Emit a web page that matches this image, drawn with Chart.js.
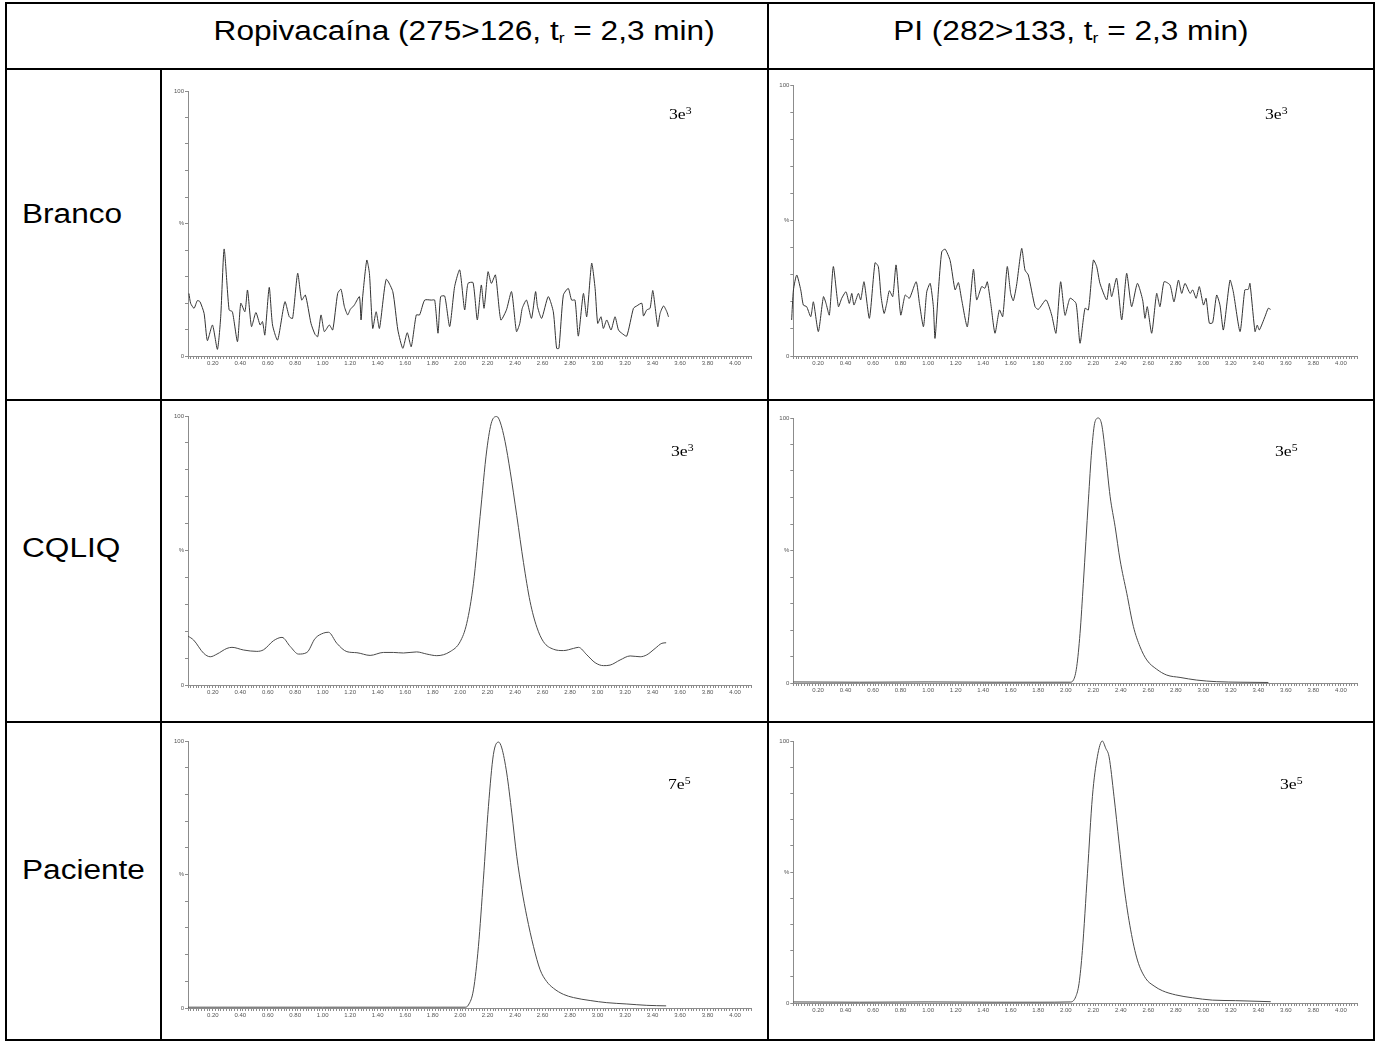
<!DOCTYPE html>
<html>
<head>
<meta charset="utf-8">
<script src="https://cdn.jsdelivr.net/npm/chart.js@4.4.1/dist/chart.umd.min.js"></script>
<style>
  body { margin: 0; background: #fff; width: 1380px; height: 1043px; position: relative; overflow: hidden;
         font-family: "Liberation Sans", Arial, sans-serif; color: #000; }
  .hl { position: absolute; height: 2px; background: #000; }
  .vl { position: absolute; width: 2px; background: #000; }
  .head { position: absolute; top: 16px; height: 30px; line-height: 30px; text-align: center; font-size: 27px; white-space: nowrap; }
  .head span { display: inline-block; transform: scaleX(1.17); }
  .head sub { font-size: 15px; vertical-align: -3px; line-height: 0; }
  .rowlab { position: absolute; left: 22px; height: 30px; line-height: 30px; font-size: 27px; transform: scaleX(1.17); transform-origin: left center; }
  .scale { position: absolute; font-family: "Liberation Serif", "Times New Roman", serif; font-size: 15px; line-height: 15px;
           transform: scaleX(1.18); transform-origin: left top; white-space: nowrap; }
  .scale sup { font-size: 10px; line-height: 0; vertical-align: 5px; }
  canvas { position: absolute; }
</style>
</head>
<body>

<!-- table rules -->
<div class="hl" style="left:5px;top:2px;width:1370px"></div>
<div class="hl" style="left:5px;top:68px;width:1370px"></div>
<div class="hl" style="left:5px;top:399px;width:1370px"></div>
<div class="hl" style="left:5px;top:721px;width:1370px"></div>
<div class="hl" style="left:5px;top:1039px;width:1370px"></div>
<div class="vl" style="left:5px;top:2px;height:1039px"></div>
<div class="vl" style="left:160px;top:68px;height:973px"></div>
<div class="vl" style="left:767px;top:2px;height:1039px"></div>
<div class="vl" style="left:1373px;top:2px;height:1039px"></div>

<div class="head" style="left:162px;width:605px"><span>Ropivacaína (275&gt;126, t<sub>r</sub> = 2,3 min)</span></div>
<div class="head" style="left:769px;width:604px"><span>PI (282&gt;133, t<sub>r</sub> = 2,3 min)</span></div>

<div class="rowlab" style="top:199px">Branco</div>
<div class="rowlab" style="top:533px">CQLIQ</div>
<div class="rowlab" style="top:855px">Paciente</div>

<canvas id="c1"></canvas>
<canvas id="c2"></canvas>
<canvas id="c3"></canvas>
<canvas id="c4"></canvas>
<canvas id="c5"></canvas>
<canvas id="c6"></canvas>

<div id="labels"></div>

<script>
// retention time (min) and relative intensity (%) for each trace
const brancoRopTime = [0.027,0.039,0.064,0.088,0.107,0.137,0.161,0.198,0.234,0.258,0.283,0.319,0.343,0.380,0.404,0.434,0.453,0.482,0.514,0.545,0.562,0.579,0.611,0.635,0.672,0.725,0.757,0.781,0.818,0.847,0.874,0.915,0.944,0.964,0.988,1.012,1.048,1.073,1.109,1.133,1.158,1.182,1.201,1.230,1.267,1.279,1.291,1.321,1.340,1.364,1.389,1.413,1.462,1.510,1.547,1.583,1.615,1.644,1.681,1.705,1.742,1.791,1.815,1.839,1.858,1.888,1.924,1.960,1.997,2.033,2.057,2.094,2.125,2.154,2.174,2.203,2.227,2.257,2.296,2.337,2.374,2.410,2.434,2.452,2.483,2.519,2.549,2.563,2.593,2.641,2.678,2.702,2.719,2.751,2.787,2.811,2.836,2.860,2.897,2.921,2.957,2.982,3.001,3.025,3.042,3.067,3.098,3.127,3.152,3.176,3.212,3.261,3.285,3.322,3.334,3.358,3.382,3.402,3.438,3.455,3.480,3.504,3.516];
const brancoRopSignal = [23.6,19.9,18.0,20.9,20.5,16.1,5.8,11.7,2.5,14.8,40.4,17.4,16.7,5.4,19.9,16.7,24.9,11.1,16.4,11.7,13.0,7.9,25.9,11.7,6.0,20.5,14.8,14.2,31.2,21.1,23.0,12.3,8.2,7.3,15.5,9.2,11.7,9.8,23.6,25.2,18.6,15.5,17.6,19.2,22.4,13.6,22.4,36.2,31.2,10.4,16.7,10.4,28.9,24.3,9.8,2.9,8.8,3.5,15.5,15.5,21.1,21.1,21.1,8.6,22.4,22.6,11.1,26.2,32.5,17.4,27.4,27.7,13.6,26.8,18.0,31.8,27.4,30.6,13.6,17.4,24.3,9.2,12.3,18.0,21.1,14.2,24.3,18.6,14.2,22.4,16.7,2.9,2.9,23.0,25.5,21.1,21.1,7.5,23.6,14.8,35.0,25.5,12.3,14.8,10.4,13.6,9.8,14.8,9.8,8.6,7.5,18.0,18.9,19.9,15.1,17.4,18.0,24.7,11.1,16.1,18.9,16.7,14.8];

const brancoPiTime = [0.008,0.021,0.045,0.074,0.093,0.117,0.147,0.166,0.202,0.239,0.258,0.282,0.311,0.348,0.372,0.403,0.427,0.445,0.461,0.493,0.510,0.534,0.573,0.614,0.638,0.658,0.680,0.699,0.718,0.743,0.767,0.801,0.833,0.864,0.913,0.937,0.966,0.990,1.015,1.038,1.050,1.075,1.099,1.124,1.160,1.196,1.220,1.244,1.285,1.329,1.353,1.389,1.413,1.430,1.455,1.486,1.518,1.542,1.575,1.600,1.619,1.643,1.680,1.704,1.728,1.777,1.801,1.857,1.898,1.929,1.963,1.995,2.031,2.075,2.104,2.140,2.165,2.201,2.225,2.249,2.298,2.317,2.334,2.370,2.407,2.443,2.479,2.521,2.559,2.576,2.593,2.625,2.661,2.685,2.715,2.758,2.787,2.819,2.843,2.867,2.904,2.923,2.948,2.971,3.001,3.020,3.044,3.068,3.097,3.121,3.146,3.194,3.218,3.267,3.302,3.327,3.339,3.376,3.392,3.407,3.448,3.472,3.489];
const brancoPiSignal = [13.3,24.4,29.9,24.4,18.8,18.2,14.5,20.0,9.0,21.9,19.4,15.1,33.0,18.2,21.3,23.7,19.4,23.1,18.8,23.1,20.7,27.4,13.9,34.4,33.0,21.9,15.7,19.4,24.1,21.9,33.6,15.1,22.5,21.3,27.4,19.4,10.8,23.7,26.8,18.2,6.5,24.4,38.5,39.4,35.2,24.4,27.1,20.7,10.8,32.0,20.7,25.6,25.0,27.4,19.4,8.4,17.0,14.5,33.0,23.1,20.4,26.2,39.7,31.7,29.9,18.2,17.2,20.7,15.1,8.4,27.4,15.0,21.3,19.4,4.7,17.6,17.0,35.4,33.0,26.8,20.7,26.8,21.9,28.7,13.3,30.5,18.2,26.8,20.7,13.9,18.2,8.4,23.1,18.2,27.4,26.2,20.0,28.0,23.1,26.8,23.1,24.4,21.3,25.6,18.8,21.3,12.1,12.3,22.5,18.8,9.6,28.0,23.7,9.0,24.4,24.6,26.8,9.0,11.4,9.6,14.5,17.6,17.2];

const cqliqRopTime = [0.020,0.061,0.134,0.182,0.231,0.303,0.340,0.425,0.521,0.570,0.643,0.704,0.764,0.824,0.885,0.945,1.006,1.042,1.103,1.176,1.249,1.345,1.442,1.514,1.587,1.684,1.757,1.830,1.927,2.000,2.048,2.097,2.145,2.194,2.230,2.267,2.291,2.327,2.364,2.412,2.461,2.509,2.558,2.606,2.679,2.752,2.825,2.861,2.922,2.982,3.043,3.091,3.164,3.237,3.310,3.358,3.419,3.468,3.499];
const cqliqRopSignal = [18.2,16.7,11.8,10.5,11.5,13.6,14.0,13.0,12.5,13.1,16.5,17.7,14.3,11.5,12.1,17.3,19.3,19.6,15.5,12.4,12.0,11.0,12.1,12.1,11.9,12.3,11.5,10.9,12.4,16.1,22.9,37.8,62.6,87.4,97.9,99.8,97.8,90.5,79.5,63.0,45.5,31.0,21.5,16.1,13.3,12.8,13.6,14.0,11.2,8.3,7.2,7.4,9.3,10.8,10.5,11.2,13.6,15.5,15.7];

const cqliqPiTime = [0.020,0.500,1.000,1.500,1.813,2.031,2.056,2.080,2.104,2.128,2.165,2.189,2.213,2.238,2.262,2.286,2.323,2.359,2.395,2.444,2.492,2.540,2.589,2.661,2.734,2.831,2.952,3.097,3.267,3.473];
const cqliqPiSignal = [0.4,0.3,0.4,0.3,0.3,0.3,1.1,6.2,18.7,37.6,69.1,87.9,98.6,100,97.4,87.9,70.3,59.0,46.4,33.8,21.3,13.7,8.7,5.2,3.0,2.1,1.1,0.5,0.3,0.2];

const pacienteRopTime = [0.020,0.500,1.000,1.500,1.854,2.036,2.060,2.097,2.133,2.169,2.206,2.242,2.279,2.303,2.339,2.376,2.412,2.449,2.485,2.534,2.582,2.630,2.679,2.752,2.825,2.946,3.067,3.213,3.358,3.499];
const pacienteRopSignal = [0.3,0.3,0.3,0.3,0.3,0.3,1.1,6.8,23.0,48.0,75.5,94.9,99.6,97.4,88.0,73.0,56.8,44.3,34.3,23.0,14.3,9.9,7.4,5.1,3.9,2.8,2.0,1.5,1.0,0.8];

const pacientePiTime = [0.020,0.500,1.000,1.500,1.806,2.036,2.073,2.097,2.121,2.158,2.194,2.230,2.266,2.291,2.315,2.351,2.388,2.424,2.472,2.521,2.581,2.642,2.702,2.799,2.920,3.066,3.235,3.490];
const pacientePiSignal = [0.4,0.3,0.4,0.3,0.3,0.4,2.4,7.5,20.0,49.5,78.8,94.0,100,97.2,94.0,78.8,61.0,44.4,27.9,16.4,9.4,6.5,4.7,3.1,2.0,1.1,0.9,0.5];

// full-scale intensity written in each panel
const scaleMantissa = ['3e', '3e', '3e', '3e', '7e', '3e'];
const scaleExponent = ['3', '3', '3', '5', '5', '5'];

const T_MIN = 0.02, T_MAX = 4.12, MINOR_STEP = 0.02;
const Y_AXIS_W = 24, X_AXIS_H = 16;

// canvas box [left, top, width, height], plot area [left, top, right, bottom], label position
const panels = [
  { id: 'c1', box: [162, 70, 605, 329], area: [188, 91, 751.5, 356], time: brancoRopTime, signal: brancoRopSignal, smooth: false, lab: [669, 107] },
  { id: 'c2', box: [769, 70, 604, 329], area: [793.3, 85, 1357.4, 356], time: brancoPiTime, signal: brancoPiSignal, smooth: false, lab: [1265, 107] },
  { id: 'c3', box: [162, 401, 605, 320], area: [188, 416, 751.5, 685], time: cqliqRopTime, signal: cqliqRopSignal, smooth: true, lab: [671, 444] },
  { id: 'c4', box: [769, 401, 604, 320], area: [793.3, 418, 1357.4, 683], time: cqliqPiTime, signal: cqliqPiSignal, smooth: true, lab: [1275, 444] },
  { id: 'c5', box: [162, 723, 605, 316], area: [188, 741, 751.5, 1008], time: pacienteRopTime, signal: pacienteRopSignal, smooth: true, lab: [668, 777] },
  { id: 'c6', box: [769, 723, 604, 316], area: [793.3, 741, 1357.4, 1003], time: pacientePiTime, signal: pacientePiSignal, smooth: true, lab: [1280, 777] }
];

function timeTicks(scale) {
  const ticks = [];
  const first = Math.ceil(T_MIN / MINOR_STEP - 1e-9);
  const last = Math.floor(T_MAX / MINOR_STEP + 1e-9);
  for (let k = first; k <= last; k++) ticks.push({ value: +(k * MINOR_STEP).toFixed(2) });
  scale.ticks = ticks;
}

function timeLabel(value) {
  return Math.round(value / MINOR_STEP) % 10 === 0 ? value.toFixed(2) : '';
}

const tickFont = { family: '"Liberation Sans", Arial, sans-serif', size: 6 };

function drawPanel(p) {
  const canvas = document.getElementById(p.id);
  const [bx, by, bw, bh] = p.box;
  const [al, at, ar, ab] = p.area;
  canvas.style.left = bx + 'px';
  canvas.style.top = by + 'px';
  canvas.width = bw;
  canvas.height = bh;

  new Chart(canvas, {
    type: 'line',
    data: {
      datasets: [{
        data: p.time.map((t, i) => ({ x: t, y: p.signal[i] })),
        // noisy blanks: slightly rounded polyline, peaks: monotone spline
        borderColor: p.smooth ? '#4a4a4a' : '#333',
        borderWidth: 1,
        pointRadius: 0,
        tension: p.smooth ? 0.4 : 0.2,
        cubicInterpolationMode: p.smooth ? 'monotone' : 'default',
        clip: false
      }]
    },
    options: {
      responsive: false,
      animation: false,
      events: [],
      layout: {
        padding: { left: al - bx - Y_AXIS_W, top: at - by, right: bx + bw - ar, bottom: by + bh - ab - X_AXIS_H }
      },
      plugins: { legend: { display: false }, tooltip: { enabled: false } },
      scales: {
        x: {
          type: 'linear', min: T_MIN, max: T_MAX,
          afterFit: s => { s.height = X_AXIS_H; },
          afterBuildTicks: timeTicks,
          grid: { drawOnChartArea: false, tickLength: 3, color: '#8c8c8c' },
          border: { color: '#8c8c8c' },
          ticks: { autoSkip: false, maxRotation: 0, padding: 1, font: tickFont, color: '#555', callback: timeLabel }
        },
        y: {
          min: 0, max: 100,
          afterFit: s => { s.width = Y_AXIS_W; },
          grid: { drawOnChartArea: false, tickLength: 3, color: '#8c8c8c' },
          border: { color: '#8c8c8c' },
          ticks: {
            stepSize: 10, padding: 1, font: tickFont, color: '#555',
            callback: v => (v === 100 ? '100' : v === 50 ? '%' : v === 0 ? '0' : '')
          }
        }
      }
    }
  });

  const i = panels.indexOf(p);
  const lab = document.createElement('div');
  lab.className = 'scale';
  lab.style.left = p.lab[0] + 'px';
  lab.style.top = p.lab[1] + 'px';
  lab.innerHTML = scaleMantissa[i] + '<sup>' + scaleExponent[i] + '</sup>';
  document.getElementById('labels').appendChild(lab);
}

panels.forEach(drawPanel);
</script>
</body>
</html>
